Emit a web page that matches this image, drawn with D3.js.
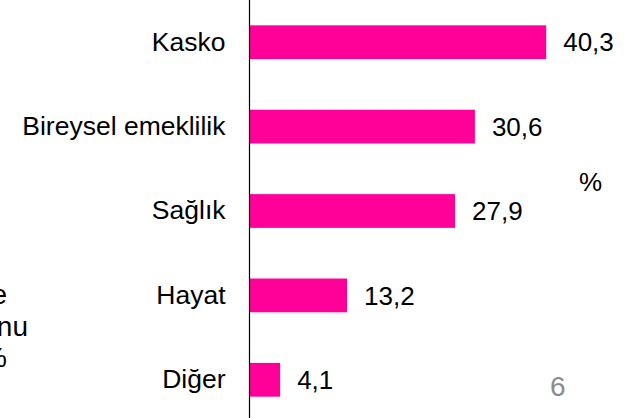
<!DOCTYPE html>
<html><head><meta charset="utf-8">
<script src="https://cdn.jsdelivr.net/npm/d3@7"></script>
<style>body{margin:0;background:#fff}svg{display:block}text{font-family:Arial,"Liberation Sans",sans-serif}</style>
</head><body>
<script>
const categories = ["Kasko","Bireysel emeklilik","Sağlık","Hayat","Diğer"];
const values = [40.3, 30.6, 27.9, 13.2, 4.1];
const valueLabels = ["40,3","30,6","27,9","13,2","4,1"];
const unitLabel = "%";
const pageNumber = "6";
const sideText = ["e","nu","%"];

const W=632,H=418;
const svg=d3.select("body").append("svg").attr("width",W).attr("height",H);
const x=d3.scaleLinear().domain([0,50]).range([250,617.5]);
const y=d3.scaleBand().domain(categories).range([0,422]).paddingInner(0.6).paddingOuter(0.3);

svg.selectAll("rect.bar").data(values).join("rect").attr("class","bar")
  .attr("x",x(0)).attr("y",(d,i)=>y(categories[i]))
  .attr("width",d=>x(d)-x(0)).attr("height",y.bandwidth()).attr("fill","#FF0099");

const ax=svg.append("g").attr("transform","translate(249.5,0)")
  .call(d3.axisLeft(y).tickSize(0).tickPadding(24));
ax.select(".domain").remove();
ax.selectAll("text").attr("font-size",26.5).attr("fill","#000").attr("font-family","Arial,'Liberation Sans',sans-serif");
svg.append("line").attr("x1",249.5).attr("x2",249.5).attr("y1",0).attr("y2",H).attr("stroke","#000").attr("stroke-width",1.2);

svg.selectAll("text.val").data(values).join("text").attr("class","val")
  .attr("x",d=>x(d)+17).attr("y",(d,i)=>y(categories[i])+y.bandwidth()/2)
  .attr("dy","0.35em").attr("font-size",26).attr("fill","#000").text((d,i)=>valueLabels[i]);

svg.append("text").attr("x",579).attr("y",191).attr("font-size",26).text(unitLabel);
svg.append("text").attr("x",550).attr("y",396).attr("font-size",28).attr("fill","#8c8c8c")
  .attr("font-family","'Open Sans','Noto Sans',sans-serif").text(pageNumber);

const sx=[7,28,7], sy=[304,336,367];
svg.selectAll("text.side").data(sideText).join("text").attr("class","side")
  .attr("x",(d,i)=>sx[i]).attr("y",(d,i)=>sy[i]).attr("text-anchor","end")
  .attr("font-size",28).attr("fill","#000").text(d=>d);
</script>
</body></html>
